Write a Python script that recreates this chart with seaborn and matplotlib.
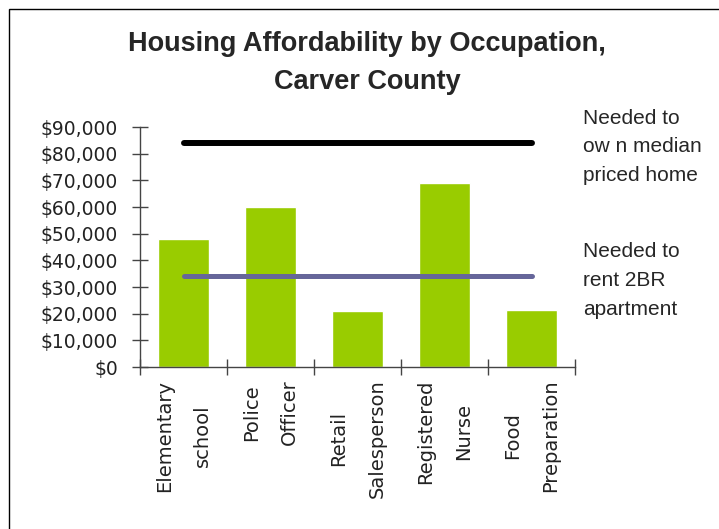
import numpy as np
import pandas as pd
import seaborn as sns
import matplotlib.pyplot as plt
import matplotlib.ticker as mticker
import matplotlib.transforms as mtransforms
from matplotlib.patches import Rectangle

# data
occupations = ["Elementary\nschool", "Police\nOfficer", "Retail\nSalesperson",
               "Registered\nNurse", "Food\nPreparation"]
income = [48000, 60000, 21000, 69000, 21500]
own_needed = 84000
rent_needed = 34000
own_label = "Needed to\now n median\npriced home"
rent_label = "Needed to\nrent 2BR\napartment"

sns.set_style("white")
plt.rcParams['font.family'] = ['DejaVu Sans']

df = pd.DataFrame({"occupation": occupations, "income": income})

fig = plt.figure(figsize=(7.19, 5.29), dpi=100)
ax = fig.add_axes([140/719, 1 - 367/529, 435/719, 240/529])

sns.barplot(data=df, x="occupation", y="income", color="#99CC00",
            saturation=1, width=0.59, ax=ax)

n = len(occupations)
pos = np.arange(n)
ax.plot(pos, [own_needed] * n, color="black", lw=4.3, solid_capstyle="round")
ax.plot(pos, [rent_needed] * n, color="#66669A", lw=3.6, solid_capstyle="round")

ax.set_xlim(-0.5, n - 0.5)
ax.set_ylim(0, 90000)
ax.set_yticks(np.arange(0, 90001, 10000))
ax.yaxis.set_major_formatter(mticker.StrMethodFormatter("${x:,.0f}"))
ax.tick_params(axis="y", direction="inout", length=11.5, width=1, color="#444444",
               labelsize=13.5, pad=10, left=True, labelcolor="#222222")
ax.set_xticks(pos)
ax.set_xticklabels(occupations, rotation=90, ha="center", va="top",
                   multialignment="center", linespacing=2.3)
ax.tick_params(axis="x", which="major", length=0, labelsize=14, pad=9,
               labelcolor="#222222")
ax.set_xticks(np.arange(-0.5, n, 1), minor=True)
ax.tick_params(axis="x", which="minor", direction="inout", length=11.5, width=1,
               color="#444444", bottom=True)
ax.set_xlabel("")
ax.set_ylabel("")

for side in ["top", "right"]:
    ax.spines[side].set_visible(False)
for side in ["left", "bottom"]:
    ax.spines[side].set_color("#444444")
    ax.spines[side].set_linewidth(1)

# labels to the right of the axes, centred a little below each line
trans = mtransforms.blended_transform_factory(ax.transAxes, ax.transData)
trans = trans + mtransforms.ScaledTranslation(8/100, -4/100, fig.dpi_scale_trans)
for yv, txt in [(own_needed, own_label), (rent_needed, rent_label)]:
    ax.text(1, yv, txt, transform=trans, ha="left", va="center",
            fontsize=15, family="Liberation Sans", linespacing=1.65)

fig.text(367/719, 1 - 63/529,
         "Housing Affordability by Occupation,\nCarver County",
         ha="center", va="center", fontsize=19.5, fontweight="bold",
         family="Liberation Sans", linespacing=1.6)

fig.patches.append(Rectangle((9/719, -0.1), 1.2, 1 - 9/529 + 0.1,
                             transform=fig.transFigure, fill=False,
                             edgecolor="black", lw=1))

fig.savefig("out.png", dpi=100)
